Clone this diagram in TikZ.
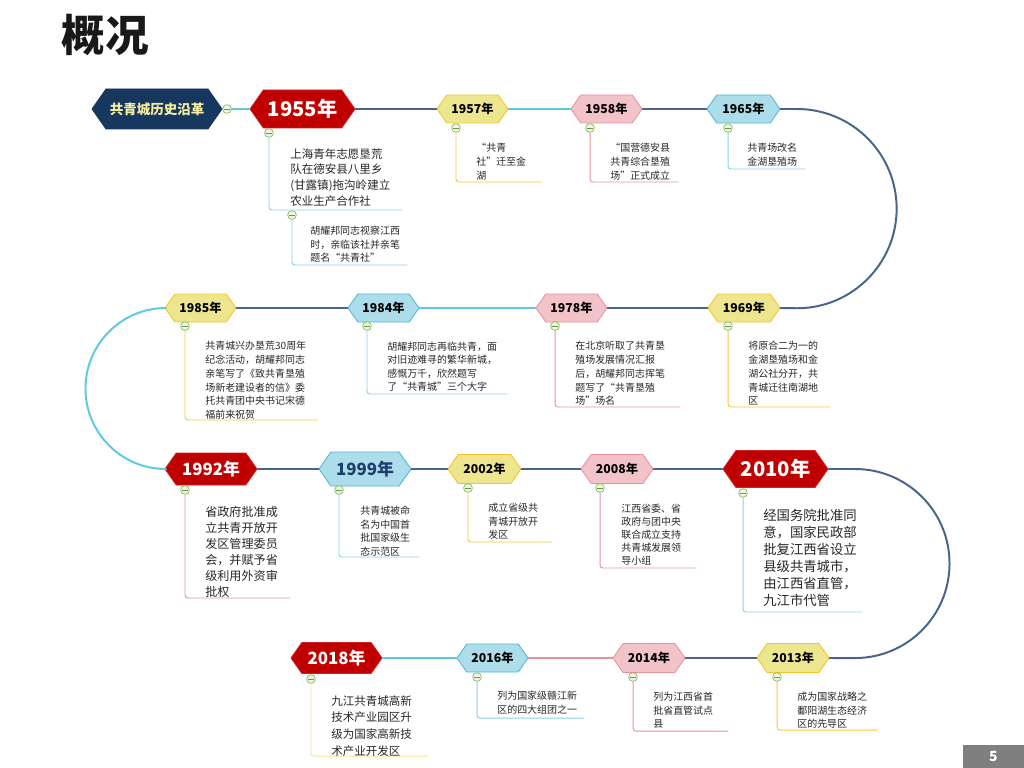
\documentclass[tikz,border=0pt]{standalone}
\usepackage{fontspec}
\setmainfont{Noto Sans CJK SC}
\usetikzlibrary{shapes.symbols}

\definecolor{navyfill}{HTML}{17375E}
\definecolor{redfill}{HTML}{C00000}
\definecolor{yelfill}{HTML}{EDE68F}
\definecolor{yeldraw}{HTML}{F7C325}
\definecolor{pinkfill}{HTML}{F3C3CA}
\definecolor{pinkdraw}{HTML}{EA8F9C}
\definecolor{bluefill}{HTML}{ADDDEA}
\definecolor{bluedraw}{HTML}{4DB9D2}
\definecolor{mainline}{HTML}{47658C}
\definecolor{cyanline}{HTML}{5DC9E2}
\definecolor{brcyan}{HTML}{8AD3E6}
\definecolor{bryel}{HTML}{F8C43A}
\definecolor{brpale}{HTML}{FCE08A}
\definecolor{brpink}{HTML}{E8909C}
\definecolor{foldgreen}{HTML}{86BC55}
\definecolor{rootyel}{HTML}{F6EDA0}
\definecolor{textgray}{HTML}{262626}
\definecolor{yearnavy}{HTML}{1F3E6B}
\definecolor{pagegray}{HTML}{7F7F7F}

\newcommand\fs[2]{\fontsize{#1}{#2}\selectfont}

\tikzset{
  hex/.style 2 args={signal, signal to=east and west, signal pointer angle=110,
    minimum width=#1*0.025cm, minimum height=#2*0.025cm, inner sep=0pt, line width=0.6pt},
  redhex/.style={fill=redfill, draw=redfill!85!white, text=white},
  yelhex/.style={fill=yelfill, draw=yeldraw, text=black},
  pinkhex/.style={fill=pinkfill, draw=pinkdraw, text=black},
  bluehex/.style={fill=bluefill, draw=bluedraw, text=black},
  bigyear/.style={font=\fs{14.4}{16}\bfseries},
  midyear/.style={font=\fs{12}{14}\bfseries},
  smallyear/.style={font=\fs{8.7}{10}\bfseries},
  mainl/.style={line width=1.4pt, draw=mainline},
  fold/.style={circle, draw=foldgreen, fill=foldgreen!15, line width=0.5pt,
    minimum size=0.22cm, inner sep=0pt,
    path picture={\draw[foldgreen!80!black, line width=0.6pt]
      ([xshift=1.3pt]path picture bounding box.west) -- ([xshift=-1.3pt]path picture bounding box.east);}},
  br/.style={line width=0.7pt, rounded corners=2pt},
  note/.style={anchor=north west, inner sep=0pt, align=left, text=textgray}
}

\begin{document}
\begin{tikzpicture}[x=0.025cm, y=-0.025cm, line cap=round, line join=round]

  \useasboundingbox (0,0) rectangle (1024,768);

  % title and page number
  \node[font=\fs{31}{33}\bfseries, text=black!90] (title) at (105,35) {概况};
  \node[fill=pagegray, text=white, font=\fs{10}{12}\bfseries,
    minimum width=1.525cm, minimum height=0.575cm, inner sep=0pt] (page) at (993.5,756.5) {5};

  % year hexagons
  \node[hex={130}{40}, fill=navyfill, draw=navyfill, text=rootyel, font=\fs{9.6}{11}\bfseries] (root) at (157,109) {共青城历史沿革};
  \node[hex={105}{38}, redhex, bigyear] (h55) at (302.5,109) {1955年};
  \node[hex={71}{28}, yelhex, smallyear] (h57) at (472.5,109) {1957年};
  \node[hex={71}{28}, pinkhex, smallyear] (h58) at (606.5,109) {1958年};
  \node[hex={73}{28}, bluehex, smallyear] (h65) at (743.5,109) {1965年};

  \node[hex={72}{28}, yelhex, smallyear] (h69) at (744,308) {1969年};
  \node[hex={71}{28}, pinkhex, smallyear] (h78) at (571.5,308) {1978年};
  \node[hex={71}{28}, bluehex, smallyear] (h84) at (383.5,308) {1984年};
  \node[hex={71}{28}, yelhex, smallyear] (h85) at (200.5,308) {1985年};

  \node[hex={92}{32}, redhex, midyear] (h92) at (211,469) {1992年};
  \node[hex={92}{34}, bluehex, midyear, text=yearnavy] (h99) at (365,469) {1999年};
  \node[hex={73}{29}, yelhex, smallyear] (h02) at (484.5,469) {2002年};
  \node[hex={72}{29}, pinkhex, smallyear] (h08) at (617,469) {2008年};
  \node[hex={105}{37}, redhex, bigyear] (h10) at (775.5,469) {2010年};

  \node[hex={72}{29}, yelhex, smallyear] (h13) at (793,658) {2013年};
  \node[hex={72}{29}, pinkhex, smallyear] (h14) at (649,658) {2014年};
  \node[hex={71}{28}, bluehex, smallyear] (h16) at (492.5,658) {2016年};
  \node[hex={91}{31}, redhex, midyear] (h18) at (336.5,658) {2018年};

  % the time line
  \draw[mainl, draw=cyanline] (root) -- (h55);
  \draw[mainl] (h55) -- (h57);
  \draw[mainl, draw=cyanline] (h57) -- (h58);
  \draw[mainl] (h58) -- (h65);
  \draw[mainl] (h65.east) -- (797,109) arc[start angle=90, end angle=-90, radius=2.49cm] -- (h69.east);
  \draw[mainl] (h69) -- (h78);
  \draw[mainl, draw=cyanline] (h78) -- (h84);
  \draw[mainl] (h84) -- (h85);
  \draw[mainl, draw=cyanline] (h85.west) -- (166,308) arc[start angle=90, end angle=270, radius=2.0125cm] -- (h92.west);
  \draw[mainl] (h92) -- (h99);
  \draw[mainl] (h99) -- (h02);
  \draw[mainl] (h02) -- (h08);
  \draw[mainl] (h08) -- (h10);
  \draw[mainl] (h10.east) -- (855,469) arc[start angle=90, end angle=-90, radius=2.3625cm] -- (h13.east);
  \draw[mainl] (h13) -- (h14);
  \draw[mainl, draw=brpink] (h14) -- (h16);
  \draw[mainl, draw=cyanline] (h16) -- (h18);

  % branch ends
  \coordinate (e55) at (402,210);
  \coordinate (e55b) at (407,265);
  \coordinate (e57) at (542,182);
  \coordinate (e58) at (678,182);
  \coordinate (e65) at (805,169);
  \coordinate (e85) at (318,420);
  \coordinate (e84) at (507,394);
  \coordinate (e78) at (680,407);
  \coordinate (e69) at (830,407);
  \coordinate (e92) at (290,598);
  \coordinate (e99) at (419,557);
  \coordinate (e02) at (552,542);
  \coordinate (e08) at (695,568);
  \coordinate (e10) at (862,612);
  \coordinate (e13) at (877,730);
  \coordinate (e14) at (728,731);
  \coordinate (e16) at (584,718);
  \coordinate (e18) at (428,756);

  % fold buttons
  \node[fold] (kroot) at (227,109) {};
  \node[fold] (k55) at (269,133) {};
  \node[fold] (k55b) at (292,215) {};
  \node[fold] (k57) at (456,128) {};
  \node[fold] (k58) at (590,128) {};
  \node[fold] (k65) at (728,128) {};
  \node[fold] (k85) at (185,326) {};
  \node[fold] (k84) at (367,326) {};
  \node[fold] (k78) at (555,326) {};
  \node[fold] (k69) at (728,326) {};
  \node[fold] (k92) at (185,490) {};
  \node[fold] (k99) at (339,490) {};
  \node[fold] (k02) at (468,488) {};
  \node[fold] (k08) at (600,488) {};
  \node[fold] (k10) at (743,493) {};
  \node[fold] (k13) at (777,677) {};
  \node[fold] (k14) at (633,677) {};
  \node[fold] (k16) at (477,677) {};
  \node[fold] (k18) at (311,679) {};

  % branches
  \draw[br, brcyan] (k55) |- (e55);
  \draw[br, brcyan] (k55b) |- (e55b);
  \draw[br, bryel] (k57) |- (e57);
  \draw[br, brpink] (k58) |- (e58);
  \draw[br, brcyan] (k65) |- (e65);
  \draw[br, bryel] (k85) |- (e85);
  \draw[br, brcyan] (k84) |- (e84);
  \draw[br, brpink] (k78) |- (e78);
  \draw[br, bryel] (k69) |- (e69);
  \draw[br, brpink] (k92) |- (e92);
  \draw[br, brcyan] (k99) |- (e99);
  \draw[br, bryel] (k02) |- (e02);
  \draw[br, brpink] (k08) |- (e08);
  \draw[br, brcyan] (k10) |- (e10);
  \draw[br, bryel] (k13) |- (e13);
  \draw[br, brpink] (k14) |- (e14);
  \draw[br, brcyan] (k16) |- (e16);
  \draw[br, brpale] (k18) |- (e18);

  % notes
  \node[note, font=\fs{8.2}{11.2}] (t55) at (290,148) {上海青年志愿垦荒\\队在德安县八里乡\\(甘露镇)拖沟岭建立\\农业生产合作社};
  \node[note, font=\fs{7.1}{9.6}] (t55b) at (310,226) {胡耀邦同志视察江西\\时，亲临该社并亲笔\\题名“共青社”};
  \node[note, font=\fs{7.1}{10}] (t57) at (476,143) {“共青\\社”迁至金\\湖};
  \node[note, font=\fs{7.1}{10}] (t58) at (610,143) {“国营德安县\\共青综合垦殖\\场”正式成立};
  \node[note, font=\fs{7.1}{10}] (t65) at (747,143) {共青场改名\\金湖垦殖场};
  \node[note, font=\fs{7.1}{9.8}] (t85) at (205,341) {共青城兴办垦荒30周年\\纪念活动，胡耀邦同志\\亲笔写了《致共青垦殖\\场新老建设者的信》委\\托共青团中央书记宋德\\福前来祝贺};
  \node[note, font=\fs{7.1}{9.4}] (t84) at (387,342) {胡耀邦同志再临共青，面\\对旧迹难寻的繁华新城，\\感慨万千，欣然题写\\了“共青城”三个大字};
  \node[note, font=\fs{7.1}{9.8}] (t78) at (575,341) {在北京听取了共青垦\\殖场发展情况汇报\\后，胡耀邦同志挥笔\\题写了“共青垦殖\\场”场名};
  \node[note, font=\fs{7.1}{9.8}] (t69) at (748,341) {将原合二为一的\\金湖垦殖场和金\\湖公社分开，共\\青城迁往南湖地\\区};
  \node[note, font=\fs{8.6}{11.4}] (t92) at (205,506) {省政府批准成\\立共青开放开\\发区管理委员\\会，并赋予省\\级利用外资审\\批权};
  \node[note, font=\fs{7.1}{9.6}] (t99) at (360,506) {共青城被命\\名为中国首\\批国家级生\\态示范区};
  \node[note, font=\fs{7.1}{9.6}] (t02) at (488,503) {成立省级共\\青城开放开\\发区};
  \node[note, font=\fs{7.1}{9.3}] (t08) at (621,504) {江西省委、省\\政府与团中央\\联合成立支持\\共青城发展领\\导小组};
  \node[note, font=\fs{9.5}{12.1}] (t10) at (763,509) {经国务院批准同\\意，国家民政部\\批复江西省设立\\县级共青城市，\\由江西省直管，\\九江市代管};
  \node[note, font=\fs{7.1}{9.6}] (t13) at (797,692) {成为国家战略之\\鄱阳湖生态经济\\区的先导区};
  \node[note, font=\fs{7.1}{9.6}] (t14) at (653,692) {列为江西省首\\批省直管试点\\县};
  \node[note, font=\fs{7.1}{10}] (t16) at (497,691) {列为国家级赣江新\\区的四大组团之一};
  \node[note, font=\fs{8.2}{11.9}] (t18) at (331,695) {九江共青城高新\\技术产业园区升\\级为国家高新技\\术产业开发区};

\end{tikzpicture}
\end{document}
